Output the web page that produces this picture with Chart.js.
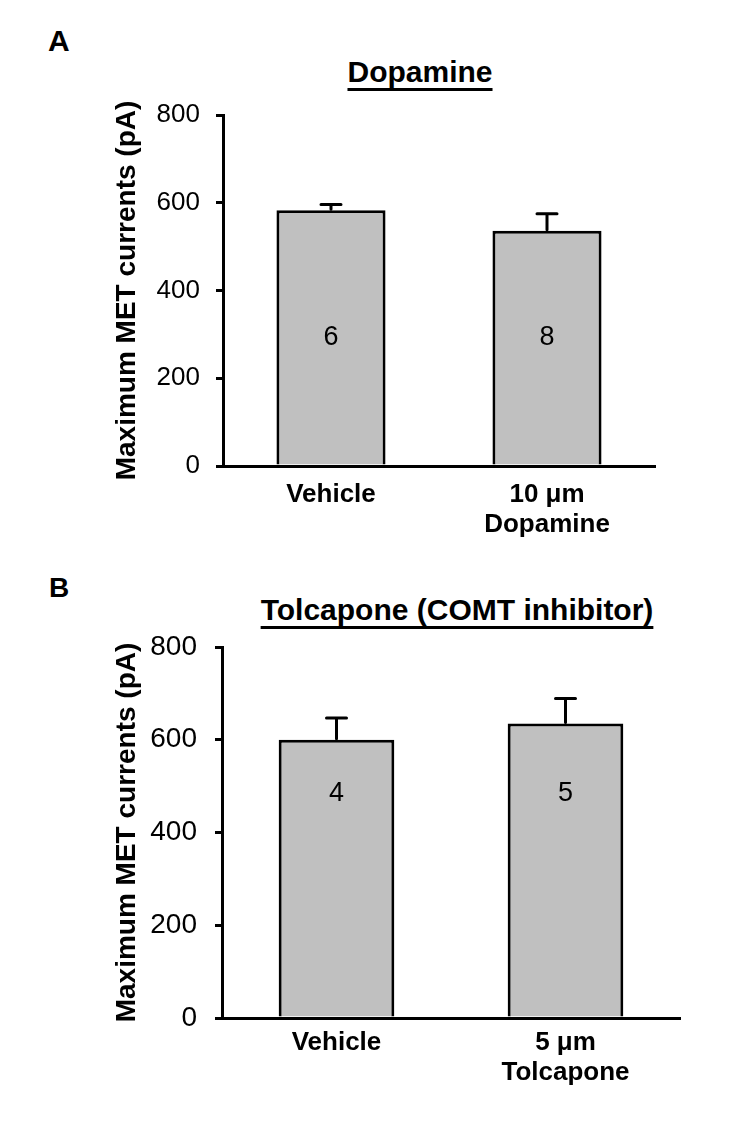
<!DOCTYPE html>
<html><head><meta charset="utf-8">
<script src="https://cdn.jsdelivr.net/npm/chart.js@4/dist/chart.umd.min.js"></script>
<style>
body{margin:0;background:#fff;width:733px;height:1128px;position:relative;overflow:hidden;font-family:"Liberation Sans",Arial,sans-serif;}
.box{position:absolute;left:0;width:733px;}
#boxA{top:0;height:560px}
#boxB{top:560px;height:568px}
.txt{position:absolute;font-weight:bold;color:#000;white-space:nowrap;line-height:30px}
.ttl{font-size:30px;transform:translateX(-50%);text-decoration:underline;text-decoration-thickness:2.5px;text-underline-offset:6px}
</style></head><body>
<div class="txt" style="left:48px;top:26px;font-size:30px">A</div>
<div class="txt" style="left:49px;top:573px;font-size:28px">B</div>
<div class="txt ttl" style="left:420px;top:57px">Dopamine</div>
<div class="txt ttl" style="left:457px;top:595px">Tolcapone (COMT inhibitor)</div>
<div class="box" id="boxA"><canvas id="cA" width="733" height="560"></canvas></div>
<div class="box" id="boxB"><canvas id="cB" width="733" height="568"></canvas></div>
<script>
// ---- data ----
const categoriesA = ['Vehicle', ['10 \u03bcm', 'Dopamine']];
const valuesA = [583, 536];
const errorsA = [13, 39];
const countsA = ['6', '8'];

const categoriesB = ['Vehicle', ['5 \u03bcm', 'Tolcapone']];
const valuesB = [600, 635];
const errorsB = [47, 54];
const countsB = ['4', '5'];

const yTicks = [0, 200, 400, 600, 800];
const yTitle = 'Maximum MET currents (pA)';

const FAM = '"Liberation Sans", Arial, sans-serif';
Chart.defaults.color = '#000';
Chart.defaults.font.family = FAM;

function extras(errors, counts, labelAt, cap, fontSize) {
  return {
    id: 'extras',
    afterDatasetsDraw(chart) {
      const ctx = chart.ctx, meta = chart.getDatasetMeta(0), ys = chart.scales.y;
      const data = chart.data.datasets[0].data;
      ctx.save();
      ctx.strokeStyle = '#000'; ctx.lineWidth = 3; ctx.lineCap = 'round';
      meta.data.forEach((bar, i) => {
        const y0 = ys.getPixelForValue(data[i]);
        const y1 = ys.getPixelForValue(data[i] + errors[i]);
        ctx.beginPath();
        ctx.moveTo(bar.x, y0 - 1); ctx.lineTo(bar.x, y1);
        ctx.moveTo(bar.x - cap, y1); ctx.lineTo(bar.x + cap, y1);
        ctx.stroke();
        ctx.fillStyle = '#000';
        ctx.font = fontSize + 'px ' + FAM;
        ctx.textAlign = 'center'; ctx.textBaseline = 'middle';
        ctx.fillText(counts[i], bar.x, ys.getPixelForValue(labelAt));
      });
      ctx.restore();
    }
  };
}

function build(id, cats, vals, errs, counts, o) {
  return new Chart(document.getElementById(id), {
    type: 'bar',
    data: {
      labels: cats,
      datasets: [{
        data: vals,
        backgroundColor: '#c0c0c0',
        borderColor: '#000',
        borderWidth: 3,
        categoryPercentage: 1,
        barPercentage: 0.505
      }]
    },
    options: {
      responsive: false,
      animation: false,
      layout: { padding: o.pad },
      plugins: { legend: { display: false }, tooltip: { enabled: false }, title: { display: false } },
      scales: {
        x: {
          ticks: { color: '#000', font: { size: 26, weight: 'bold', lineHeight: 1.15 }, padding: o.xPad, maxRotation: 0, autoSkip: false },
          grid: { display: false, drawTicks: false },
          border: { display: true, color: '#000', width: 3 },
          afterFit: s => { s.height = 80; }
        },
        y: {
          min: 0, max: 800,
          afterBuildTicks: s => { s.ticks = yTicks.map(v => ({ value: v })); },
          ticks: { color: '#000', font: { size: o.tickSize }, padding: o.tickPad },
          grid: { drawOnChartArea: false, drawTicks: true, tickLength: 7, color: '#000', lineWidth: 3 },
          border: { display: true, color: '#000', width: 3 },
          title: { display: true, text: yTitle, color: '#000', font: { size: 28, weight: 'bold' }, padding: { top: 110, bottom: 0 } },
          afterFit: s => { s.width = o.yWidth; }
        }
      }
    },
    plugins: [extras(errs, counts, o.labelAt, 10, 27)]
  });
}

build('cA', categoriesA, valuesA, errorsA, countsA,
  { pad: { left: 0, right: 78, top: 115, bottom: 14 }, yWidth: 223, tickSize: 26, tickPad: 16, xPad: 14, labelAt: 292 });
build('cB', categoriesB, valuesB, errorsB, countsB,
  { pad: { left: 0, right: 53, top: 87, bottom: 30 }, yWidth: 222, tickSize: 28, tickPad: 18, xPad: 10, labelAt: 485 });
</script>
</body></html>
